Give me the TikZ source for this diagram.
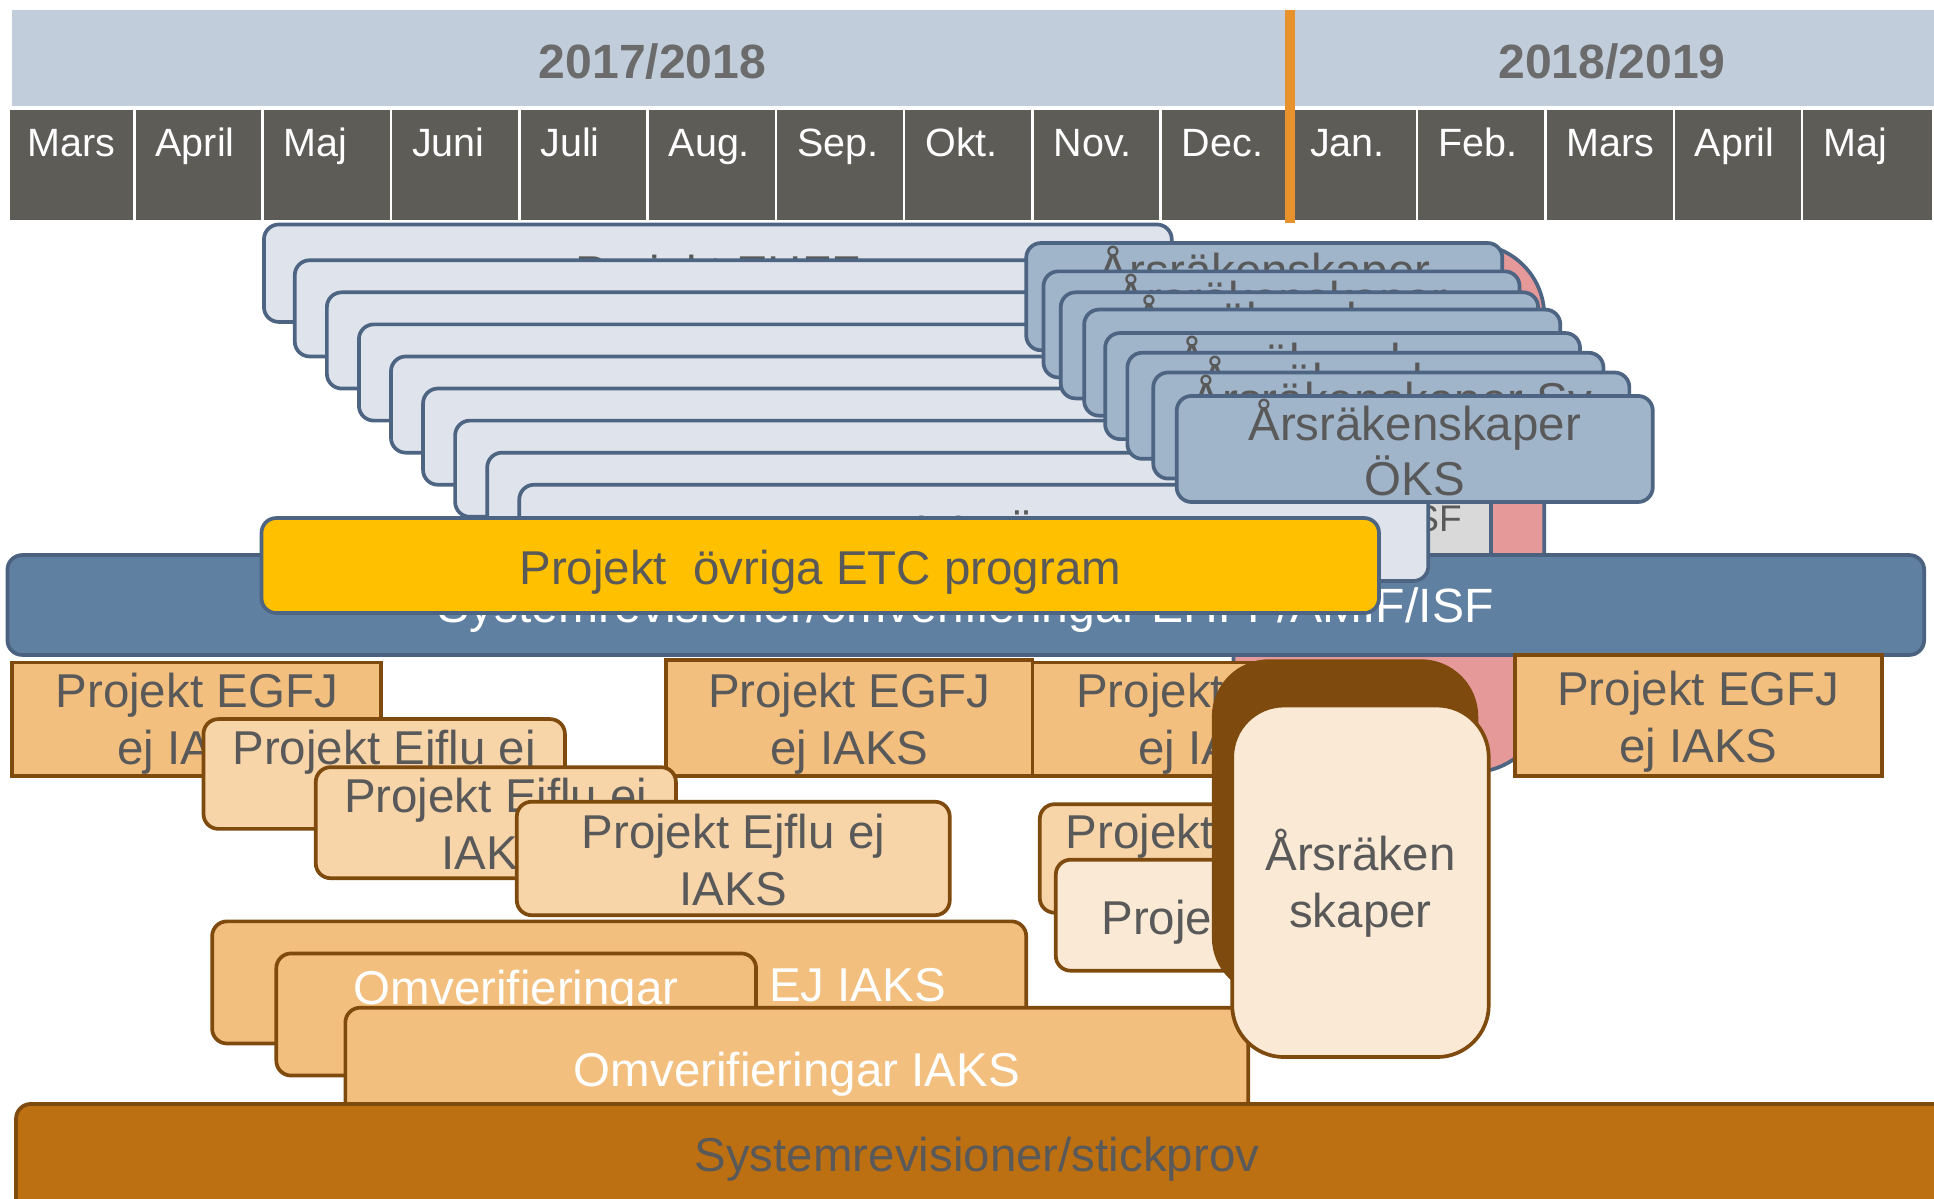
\documentclass[tikz,border=0pt]{standalone}
\usepackage{fontspec}
\setmainfont{Liberation Sans}
\definecolor{hdr}{HTML}{C1CDDB}
\definecolor{mon}{HTML}{5D5C57}
\definecolor{yeargray}{HTML}{6B6B6B}
\definecolor{orng}{HTML}{E8922D}
\definecolor{bord}{HTML}{4D6482}
\definecolor{lblue}{HTML}{DFE4EC}
\definecolor{ablue}{HTML}{A0B4CA}
\definecolor{pnk}{HTML}{E59999}
\definecolor{gryb}{HTML}{D9D9D9}
\definecolor{yel}{HTML}{FFC000}
\definecolor{bbar}{HTML}{6080A2}
\definecolor{bbord}{HTML}{4A6180}
\definecolor{tgray}{HTML}{595959}
\definecolor{eor}{HTML}{F3BF7F}
\definecolor{brn}{HTML}{7F4A0D}
\definecolor{jl}{HTML}{F7D5A9}
\definecolor{cream}{HTML}{FAEAD5}
\definecolor{sysb}{HTML}{BD7012}
\tikzset{
  bxbase/.style={inner sep=0pt, outer sep=0pt, line width=3pt},
  lbx/.style={bxbase, draw=bord, fill=lblue, rounded corners=12pt},
  abx/.style={bxbase, draw=bord, fill=ablue, rounded corners=12pt},
  pinkbx/.style={bxbase, draw=bord, fill=pnk, rounded corners=58pt},
  graybx/.style={bxbase, draw=bord, fill=gryb},
  bbx/.style={bxbase, draw=bbord, fill=bbar, rounded corners=12pt},
  ybx/.style={bxbase, draw=bord, fill=yel, rounded corners=12pt},
  ebx/.style={bxbase, draw=brn, fill=eor},
  jbx/.style={bxbase, draw=brn, fill=jl, rounded corners=12pt},
  cbx/.style={bxbase, draw=brn, fill=cream, rounded corners=12pt},
  obx/.style={bxbase, draw=brn, fill=eor, rounded corners=12pt},
  darkbx/.style={bxbase, draw=brn, fill=brn, rounded corners=45pt},
  arsbx/.style={bxbase, draw=brn, fill=cream, rounded corners=42pt},
  sysbx/.style={bxbase, draw=brn, fill=sysb, rounded corners=12pt},
  txt/.style={inner sep=0pt, outer sep=0pt, font=\fontsize{38.5}{46}\selectfont, text=tgray},
  wtxt/.style={text=white},
  yeartxt/.style={font=\fontsize{39}{46}\selectfont\bfseries, text=yeargray},
  montxt/.style={inner sep=0pt, font=\fontsize{32}{38}\selectfont, text=white, anchor=base west},
}
\newcommand\mkbox[6]{\node[#2, minimum width={(#5)-(#3)}, minimum height={(#6)-(#4)}] (#1) at ({((#3)+(#5))/2},{((#4)+(#6))/2}) {};}
\newcommand\mktxt[5][]{\node[txt,anchor=base,#1] (#2) at (#3,#4) {#5};}
\begin{document}
\begin{tikzpicture}[x=1pt,y=-1pt]
\useasboundingbox (0,0) rectangle (1568,972);
\clip (0,0) rectangle (1568,972);
% header
\fill[hdr] (10,8) rectangle (1568,86);
\mktxt[yeartxt]{yr1}{529}{64}{2017/2018}
\mktxt[yeartxt]{yr2}{1307}{64}{2018/2019}
\fill[mon] (8,89) rectangle (1566,178);
\foreach \k in {0,...,13} \fill[white] ({108+104*\k},89) rectangle ({110+104*\k},178);
\foreach \m [count=\i from 0] in {Mars,April,Maj,Juni,Juli,Aug.,Sep.,Okt.,Nov.,Dec.,Jan.,Feb.,Mars,April,Maj}
  \node[montxt] (m\i) at ({22+104*\i},127) {\m};
\fill[orng] (1042,8) rectangle (1050,181);
% background shapes
\mkbox{pink}{pinkbx}{1000}{198}{1252}{626}
\mkbox{grayb}{graybx}{1000}{381}{1209}{459}
\mktxt[font=\fontsize{30}{36}\selectfont, anchor=base east]{grayt}{1185}{431}{ISF}
\mkbox{bluebar}{bbx}{6}{450}{1560}{531}
\mktxt[wtxt, font=\fontsize{39}{46}\selectfont]{bluet}{783}{505}{Systemrevisioner/omverifieringar EHFF/AMIF/ISF}
% light blue stack
\mkbox{L1}{lbx}{214}{182}{950}{261}
\mktxt{L1t}{582}{235}{Projekt EHFF}
\foreach \i in {2,...,9}{
  \mkbox{L\i}{lbx}{239+26*(\i-2)}{211+26*(\i-2)}{950+26*(\i-1)}{289+26*(\i-2)}
}
\mktxt{L9t}{789}{446}{Projekt ÖKS}
% Årsräkenskaper stack
\mkbox{A1}{abx}{832}{197}{1218}{284}
\mktxt{A1t}{1025}{233}{Årsräkenskaper}
\mkbox{A2}{abx}{846}{220}{1232}{306}
\mktxt{A2t}{1039}{256}{Årsräkenskaper}
\mkbox{A3}{abx}{860}{237}{1247}{323}
\mktxt{A3t}{1053.5}{273}{Årsräkenskaper}
\mkbox{A4}{abx}{879}{251}{1265}{337}
\mkbox{A5}{abx}{896}{270}{1281}{356}
\mktxt{A5t}{1088.5}{306}{Årsräkenskaper}
\mkbox{A6}{abx}{914}{286}{1300}{372}
\mktxt{A6t}{1107}{322}{Årsräkenskaper}
\mkbox{A7}{abx}{935}{302}{1321}{388}
\mktxt{A7t}{1128}{338}{Årsräkenskaper Sv}
\mkbox{A8}{abx}{954}{321}{1340}{407}
\mktxt{A8t}{1147}{357}{Årsräkenskaper}
\mktxt{A8u}{1147}{402}{ÖKS}
% yellow
\mkbox{yelb}{ybx}{212}{420}{1118}{497}
\mktxt{yelt}{665}{474}{Projekt\ \ övriga ETC program}
% EGFJ boxes
\mkbox{E1}{ebx}{10}{537}{309}{629}
\mktxt{E1t}{159.5}{574}{Projekt EGFJ}
\mktxt{E1u}{159.5}{620}{ej IAKS}
\mkbox{E2}{ebx}{540}{535}{837}{629}
\mktxt{E2t}{688.5}{574}{Projekt EGFJ}
\mktxt{E2u}{688.5}{620}{ej IAKS}
\mkbox{E3}{ebx}{837}{537}{1137}{629}
\mktxt{E3t}{987}{574}{Projekt EGFJ}
\mktxt{E3u}{987}{620}{ej IAKS}
\mkbox{E4}{ebx}{1228}{531}{1526}{629}
\mktxt{E4t}{1377}{572}{Projekt EGFJ}
\mktxt{E4u}{1377}{618}{ej IAKS}
% Ejflu boxes
\mkbox{J1}{jbx}{165}{583}{458}{672}
\mktxt{J1t}{311.5}{620}{Projekt Ejflu ej}
\mkbox{J2}{jbx}{256}{622}{548}{712}
\mktxt{J2t}{402}{659}{Projekt Ejflu ej}
\mktxt{J2u}{402}{705}{IAKS}
\mkbox{J3}{jbx}{419}{650}{770}{742}
\mktxt{J3t}{594.5}{688}{Projekt Ejflu ej}
\mktxt{J3u}{594.5}{734}{IAKS}
\mkbox{J4}{jbx}{843}{652}{1131}{740}
\mktxt{J4t}{987}{688}{Projekt Ejflu ej}
\mkbox{J5}{cbx}{856}{697}{1150}{787}
\mktxt[anchor=base west]{J5t}{893}{758}{Projekt}
% Omverifieringar
\mkbox{O1}{obx}{172}{747}{832}{846}
\mktxt[wtxt, anchor=base east]{O1t}{767}{812}{EJ IAKS}
\mkbox{O2}{obx}{224}{773}{613}{872}
\mktxt[wtxt]{O2t}{418.5}{814}{Omverifieringar}
\mkbox{O3}{obx}{280}{817}{1012}{917}
\mktxt[wtxt]{O3t}{646}{881}{Omverifieringar IAKS}
% Årsräkenskaper (brown)
\mkbox{darkb}{darkbx}{984}{536}{1197}{805}
\mkbox{arsb}{arsbx}{999}{572}{1207}{857}
\mktxt{arst}{1103}{706}{Årsräken}
\mktxt{arsu}{1103}{752}{skaper}
% bottom bar
\mkbox{sys}{sysbx}{13}{895}{1590}{995}
\mktxt{syst}{792}{950}{Systemrevisioner/stickprov}
\end{tikzpicture}
\end{document}
